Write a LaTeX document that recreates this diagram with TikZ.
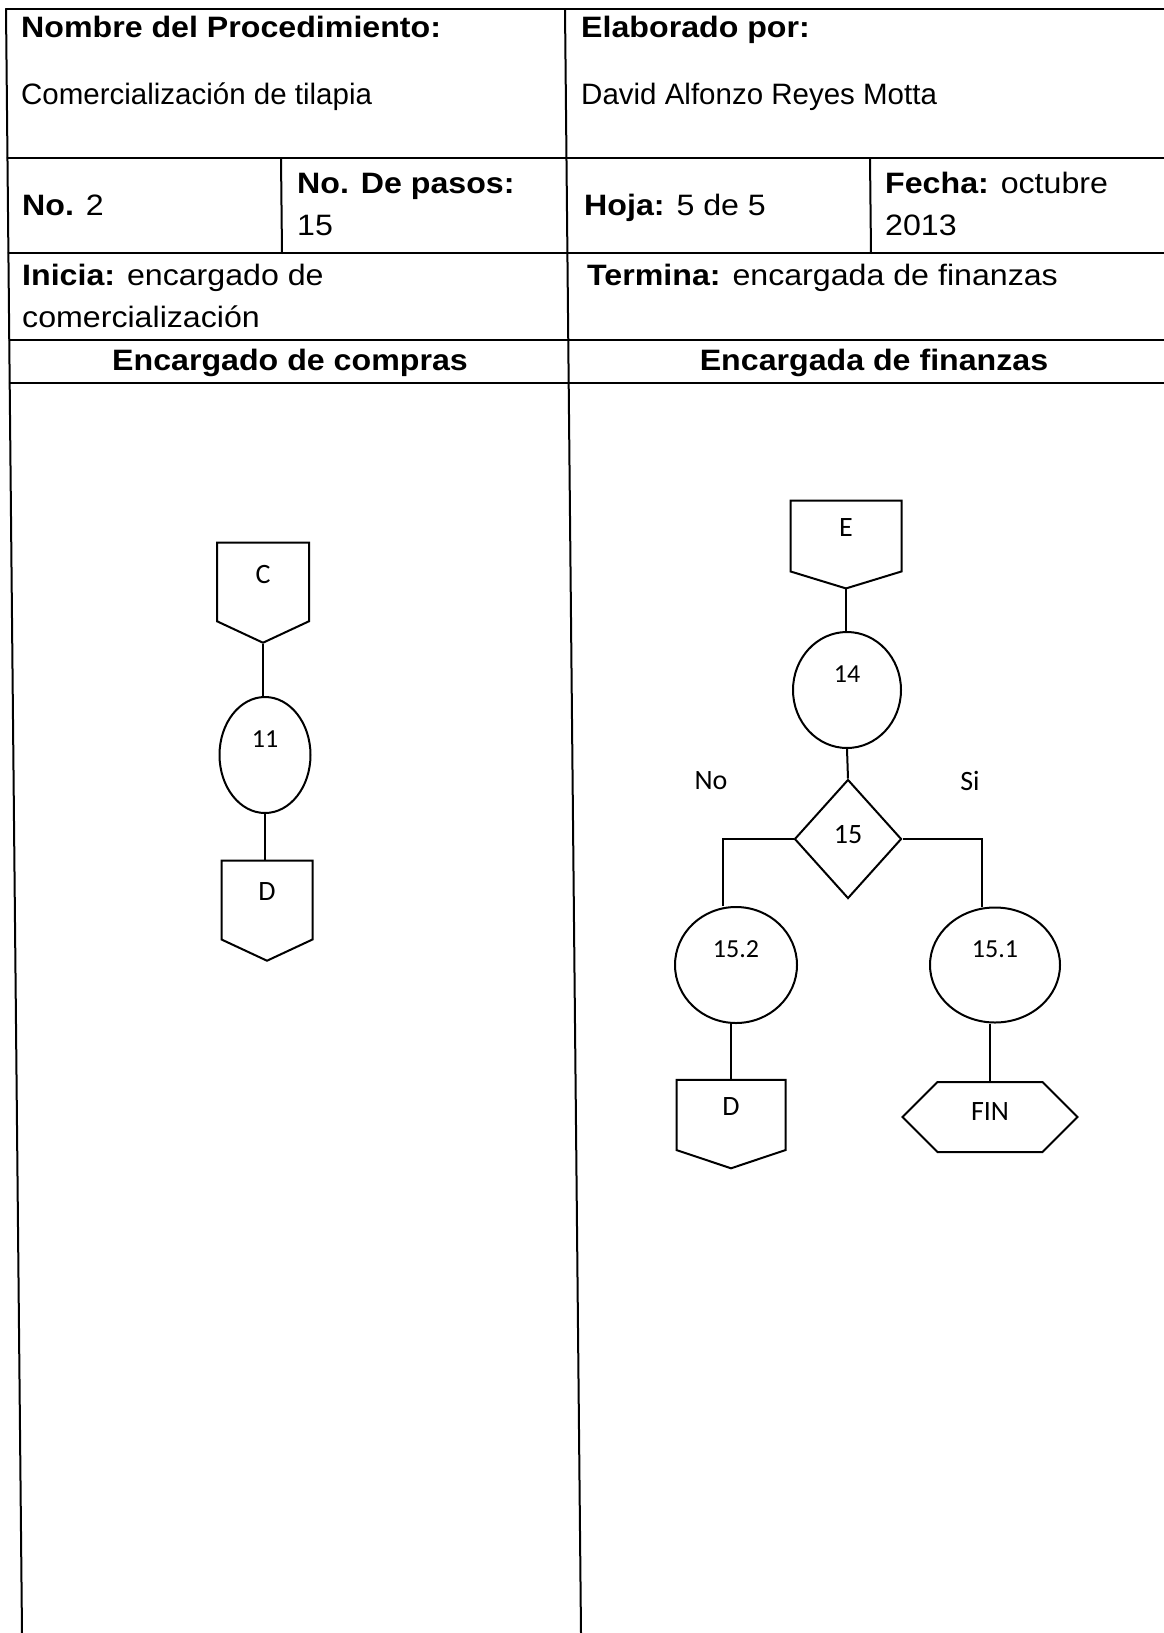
\documentclass[tikz,border=0pt]{standalone}
\usepackage{fontspec}
\setmainfont{Liberation Sans}[FakeStretch=1.09]
\newfontfamily\plainfont{Liberation Sans}
\newfontfamily\calibrifont{Carlito}
\usetikzlibrary{shapes.geometric,shapes.symbols}

\tikzset{
	tableline/.style={line width=2pt, line cap=round},
	celltext/.style={anchor=base west, inner sep=0pt, align=left, font=\fontsize{29.5}{42}\selectfont},
	lanetext/.style={anchor=base, inner sep=0pt, font=\bfseries\fontsize{29.5}{42}\selectfont},
	flowshape/.style={draw, line width=2pt, inner sep=0pt, font=\calibrifont\fontsize{28}{30}\selectfont},
	proc/.style={flowshape, ellipse, text depth=32pt, font=\calibrifont\fontsize{26}{28}\selectfont},
	pagelink/.style={flowshape, signal, signal to=south, text depth=16pt},
	decision/.style={flowshape, diamond, text depth=10pt},
	finbox/.style={flowshape, signal, signal to=east and west, signal pointer angle=90, text depth=10pt},
	answer/.style={inner sep=0pt, font=\calibrifont\fontsize{28}{30}\selectfont},
	conn/.style={line width=2pt},
}

\begin{document}
\begin{tikzpicture}[x=1pt,y=-1pt]
			%%%%% START %%%%%
			
			\fill[white] (0,0) rectangle (1164,1633);
			\useasboundingbox (0,0) rectangle (1164,1633);
			
			% table
			\draw[tableline] (6,9) -- (1164,9);
			\draw[tableline] (7.5,158) -- (1164,158);
			\draw[tableline] (8.5,253) -- (1164,253);
			\draw[tableline] (9.3,340) -- (1164,340);
			\draw[tableline] (9.8,383) -- (1164,383);
			\draw[tableline] (6,9) -- (22,1633);
			\draw[tableline] (565,9) -- (581,1633);
			\draw[tableline] (281,158) -- (282,253);
			\draw[tableline] (870,158) -- (871,253);
			
			\node[celltext] (procname) at (21,37) {\textbf{Nombre del Procedimiento:}};
			\node[celltext] (procval) at (21,104) {\plainfont Comercialización de tilapia};
			\node[celltext] (autorname) at (581,37) {\textbf{Elaborado por:}};
			\node[celltext] (autorval) at (581,104) {\plainfont David Alfonzo Reyes Motta};
			
			\node[celltext] (numero) at (22,215) {\textbf{No.} 2};
			\node[celltext] (pasos) at (297,235) {\textbf{No. De pasos:}\\15};
			\node[celltext] (hoja) at (584,215) {\textbf{Hoja:} 5 de 5};
			\node[celltext] (fecha) at (885,235) {\textbf{Fecha:} octubre\\2013};
			
			\node[celltext] (inicia) at (22,327) {\textbf{Inicia:} encargado de\\comercialización};
			\node[celltext] (termina) at (587,285) {\textbf{Termina:} encargada de finanzas};
			
			\node[lanetext] (lanecompras) at (290,370) {Encargado de compras};
			\node[lanetext] (lanefinanzas) at (874,370) {Encargada de finanzas};
			
			% encargado de compras
			\node[pagelink, minimum width=92pt, minimum height=82pt, signal pointer angle=130] (linkC) at (263,582) {C};
			\node[proc, minimum width=91pt, minimum height=116pt] (p11) at (265,755) {11};
			\node[pagelink, minimum width=91pt, minimum height=83pt, signal pointer angle=130] (linkD) at (267,900) {D};
			
			\draw[conn] (linkC.south) -- (linkC.south |- p11.north);
			\draw[conn] (p11.south) -- (p11.south |- linkD.north);
			
			% encargada de finanzas
			\node[pagelink, minimum width=111pt, minimum height=73pt, signal pointer angle=146] (linkE) at (846,536) {E};
			\node[proc, minimum width=108pt, minimum height=116pt] (p14) at (847,690) {14};
			\node[decision, minimum width=107pt, minimum height=119pt] (d15) at (848,839) {15};
			\node[answer] (no) at (711,781) {No};
			\node[answer] (si) at (970,781) {Si};
			\node[proc, minimum width=122pt, minimum height=116pt] (p152) at (736,965) {15.2};
			\node[proc, minimum width=130pt, minimum height=115pt] (p151) at (995,965) {15.1};
			\node[pagelink, minimum width=109pt, minimum height=73pt, signal pointer angle=143] (linkD2) at (731,1115) {D};
			\node[finbox, minimum width=175pt, minimum height=70pt] (fin) at (990,1117) {FIN};
			
			\draw[conn] (linkE.south) -- (linkE.south |- p14.north);
			\draw[conn] (p14.south) -- (d15.north);
			\draw[conn] (d15.west) -| ([xshift=-13pt]p152.north);
			\draw[conn] (d15.east) -| ([xshift=-13pt]p151.north);
			\draw[conn] (linkD2.north |- p152.south) -- (linkD2.north);
			\draw[conn] (fin.north |- p151.south) -- (fin.north);
			
			%%%%% END %%%%%
\end{tikzpicture}
\end{document}
